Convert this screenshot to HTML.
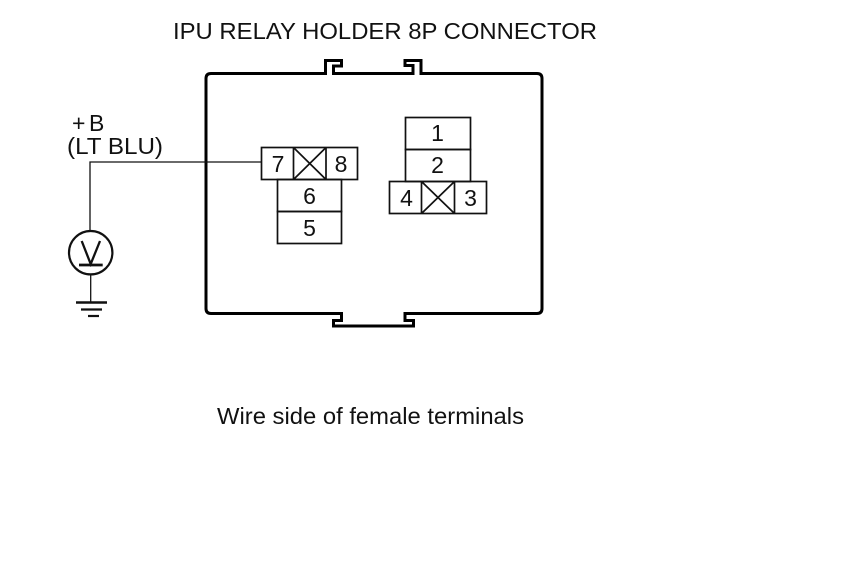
<!DOCTYPE html>
<html>
<head>
<meta charset="utf-8">
<style>
html,body{margin:0;padding:0;background:#fff;width:860px;height:577px;overflow:hidden}
svg{display:block}
text{font-family:"Liberation Sans",Arial,sans-serif;fill:#111;font-size:23px}
.n{text-anchor:middle}
</style>
</head>
<body>
<svg width="860" height="577" viewBox="0 0 860 577" xmlns="http://www.w3.org/2000/svg">
<rect width="860" height="577" fill="#fff"/>
<text x="173" y="39" textLength="424" lengthAdjust="spacingAndGlyphs">IPU RELAY HOLDER 8P CONNECTOR</text>
<text x="217" y="424" textLength="307" lengthAdjust="spacingAndGlyphs">Wire side of female terminals</text>
<text x="72" y="131">+</text>
<text x="89" y="131">B</text>
<text x="67" y="154" textLength="96" lengthAdjust="spacingAndGlyphs">(LT BLU)</text>

<path d="M211 73.500H325.500V60.500H341.500V66H333.500V73.500H413V65.500H405V60.500H421V73.500H537Q542 73.500 542 78.500V308.500Q542 313.500 537 313.500H405V320.500H413.500V326H333.500V320.500H341.500V313.500H211Q206 313.500 206 308.500V78.500Q206 73.500 211 73.500Z" fill="none" stroke="#000" stroke-width="3"/>

<g fill="none" stroke="#111" stroke-width="1.700">
<rect x="261.500" y="147.500" width="96" height="32"/>
<path d="M293.500 147.500V179.500M326 147.500V179.500M293.500 147.500L326 179.500M326 147.500L293.500 179.500"/>
<rect x="277.500" y="179.500" width="64" height="32"/>
<rect x="277.500" y="211.500" width="64" height="32"/>
<rect x="405.500" y="117.500" width="65" height="32"/>
<rect x="405.500" y="149.500" width="65" height="32"/>
<rect x="389.500" y="181.500" width="97" height="32"/>
<path d="M421.500 181.500V213.500M454.500 181.500V213.500M421.500 181.500L454.500 213.500M454.500 181.500L421.500 213.500"/>
</g>

<text class="n" x="278" y="172">7</text>
<text class="n" x="341" y="172">8</text>
<text class="n" x="309.500" y="204">6</text>
<text class="n" x="309.500" y="236">5</text>
<text class="n" x="437.500" y="141">1</text>
<text class="n" x="437.500" y="173">2</text>
<text class="n" x="406.500" y="206">4</text>
<text class="n" x="470.500" y="206">3</text>

<g fill="none" stroke="#111">
<path d="M261 162H90V231" stroke-width="1.300"/>
<circle cx="90.700" cy="252.700" r="21.700" stroke-width="2.200"/>
<path d="M81.700 241L90.700 264L100 241" stroke-width="2.300"/>
<path d="M79 265H102.700" stroke-width="2.800"/>
<path d="M90.700 274.500V302" stroke-width="1.300"/>
<path d="M76 302.500H107" stroke-width="2.600"/>
<path d="M81 309.500H102" stroke-width="2.200"/>
<path d="M88 316H99" stroke-width="2.200"/>
</g>
</svg>
</body>
</html>
